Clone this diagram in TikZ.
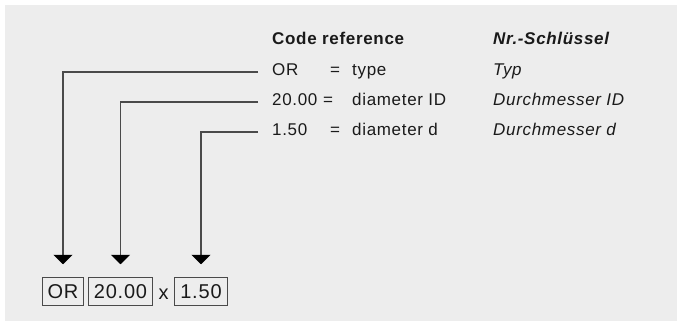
\documentclass[tikz,border=0pt]{standalone}
\usepackage{fontspec}
\setmainfont[LetterSpace=4]{Liberation Sans}
\usetikzlibrary{arrows.meta}
\definecolor{bggray}{HTML}{EDEDED}
\definecolor{linegray}{HTML}{4A4A4A}
\definecolor{txt}{HTML}{1A1A1A}
\tikzset{
  lbl/.style={anchor=base west, inner sep=0pt, text=txt, font=\fontsize{17}{20}\selectfont},
  hdr/.style={lbl, font=\fontsize{17}{20}\selectfont\bfseries},
  hdrde/.style={lbl, font=\fontsize{17}{20}\selectfont\bfseries\itshape},
  de/.style={lbl, font=\fontsize{17}{20}\selectfont\itshape},
  codebox/.style={draw=linegray, line width=0.9pt, minimum height=28pt, inner sep=0pt, text=txt, font=\fontsize{20}{22}\selectfont},
  conn/.style={draw=linegray, line width=1.3pt, -{Triangle[width=19pt,length=9.5pt,fill=black,color=black]}, shorten >=13pt}
}
\begin{document}
\begin{tikzpicture}[x=1pt,y=-1pt]
\useasboundingbox (0,0) rectangle (677,321);
\fill[white] (0,0) rectangle (677,321);
\fill[bggray] (5,5) rectangle (677,321);
% header
\node[hdr] (hcode) at (272,45) {Code reference};
\node[hdrde] (hde) at (493,45) {Nr.-Schlüssel};
% row 1
\node[lbl] (r1c) at (272,75) {OR};
\node[lbl] (r1e) at (330,75) {=};
\node[lbl] (r1d) at (352,75) {type};
\node[de] (r1g) at (493,75) {Typ};
% row 2
\node[lbl] (r2c) at (272,105) {20.00};
\node[lbl] (r2e) at (323,105) {=};
\node[lbl] (r2d) at (352,105) {diameter ID};
\node[de] (r2g) at (493,105) {Durchmesser ID};
% row 3
\node[lbl] (r3c) at (272,135) {1.50};
\node[lbl] (r3e) at (330,135) {=};
\node[lbl] (r3d) at (352,135) {diameter d};
\node[de] (r3g) at (493,135) {Durchmesser d};
% boxes
\node[codebox, minimum width=40.6pt] (b1) at (63,291.7) {OR};
\node[codebox, minimum width=64.7pt] (b2) at (120.5,291.7) {20.00};
\node[inner sep=0pt, anchor=base, text=txt, font=\fontsize{20}{22}\selectfont] (bx) at (163.5,299) {x};
\node[codebox, minimum width=53.7pt] (b3) at (201,291.7) {1.50};
% connectors
\coordinate (c1) at (258,72);
\coordinate (c2) at (258,102);
\coordinate (c3) at (258,132);
\draw[conn] (c1) -| (b1.north);
\draw[conn] (c2) -| (b2.north);
\draw[conn] (c3) -| (b3.north);
\end{tikzpicture}
\end{document}
